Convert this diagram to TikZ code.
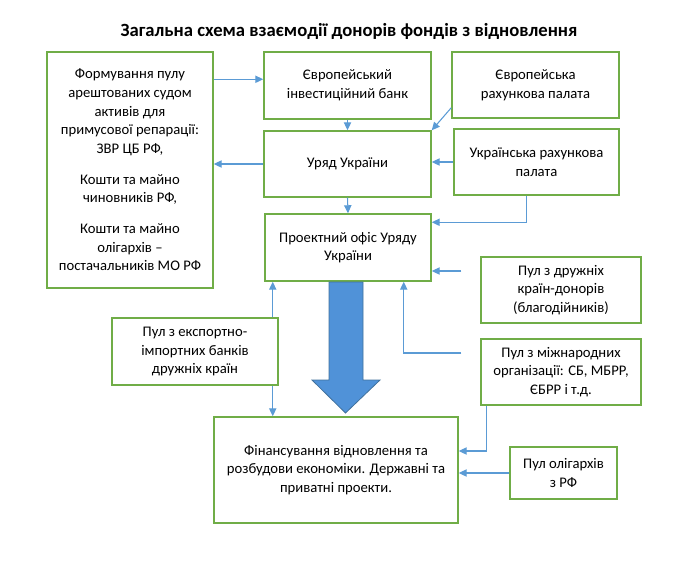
\documentclass[tikz,border=0pt]{standalone}
\usepackage{fontspec}
\setmainfont{Carlito}
\usetikzlibrary{arrows.meta,calc}

\definecolor{boxgreen}{RGB}{112,173,71}
\definecolor{lineblue}{RGB}{91,155,213}
\definecolor{fillblue}{RGB}{80,146,216}
\definecolor{edgeblue}{RGB}{65,113,156}

\tikzset{
    box/.style={draw=boxgreen, line width=1.1pt, align=center, inner sep=2pt,
        font=\fontsize{11}{14}\selectfont},
    wh/.style 2 args={minimum width=#1*0.75pt, minimum height=#2*0.75pt},
    link/.style={draw=lineblue, line width=0.8pt, -{Triangle[length=6pt,width=5.5pt,fill=lineblue]}},
}

\begin{document}
\begin{tikzpicture}[x=0.75pt, y=-0.75pt]
    \useasboundingbox (0,0) rectangle (681,564);

    % -- Заголовок --
    \node[font=\bfseries\fontsize{14}{16}\selectfont] (title) at (349,31)
        {Загальна схема взаємодії донорів фондів з відновлення};

    % -- Блоки --
    \node[box, wh={166}{236}] (pool) at (130,170) {Формування пулу\\ арештованих судом\\ активів для\\ примусової репарації:\\ ЗВР ЦБ РФ,\\[9pt] Кошти та майно\\ чиновників РФ,\\[9pt] Кошти та майно\\ олігархів –\\ постачальників МО РФ};
    \node[box, wh={167}{67}] (eib) at (347.5,85.5) {Європейський\\ інвестиційний банк};
    \node[box, wh={167}{66}] (uryad) at (347.5,164) {Уряд України};
    \node[box, wh={166}{67}] (office) at (348,247.5) {Проектний офіс Уряду\\ України};
    \node[box, wh={167}{66}] (erp) at (535.5,85) {Європейська\\ рахункова палата};
    \node[box, wh={165}{66}] (urp) at (536.5,162) {Українська рахункова\\ палата};
    \node[box, wh={160}{66}] (friends) at (561,290) {Пул з дружніх\\ країн-донорів\\ (благодійників)};
    \node[box, wh={160}{66}] (intl) at (561,372) {Пул з міжнародних\\ організації: СБ, МБРР,\\ ЄБРР і т.д.};
    \node[box, wh={166}{67}] (export) at (195,351.5) {Пул з експортно-\\ імпортних банків\\ дружніх країн};
    \node[box, wh={244}{106}] (finance) at (336,470) {Фінансування відновлення та\\ розбудови економіки. Державні та\\ приватні проекти.};
    \node[box, wh={107}{52}] (oligarch) at (563.5,473) {Пул олігархів\\ з РФ};

    % -- Точки прив'язки --
    \coordinate (poolout) at ($(pool.north east)+(0,28)$);
    \coordinate (erpout) at ($(erp.south west)+(0,-11)$);
    \coordinate (officein) at ($(office.north east)+(0,9)$);
    \coordinate (friendsout) at ($(friends.west)+(-19,-19)$);
    \coordinate (intlout) at ($(intl.west)+(-19,-19)$);
    \coordinate (exptop) at ($(export.north east)+(-6,0)$);
    \coordinate (expbot) at ($(export.south east)+(-6,0)$);

    % -- Зв'язки --
    \draw[link] (poolout) -- (poolout -| eib.west);
    \draw[link] (uryad.west) -- (uryad.west -| pool.east);
    \draw[link] (eib.south) -- (uryad.north);
    \draw[link] (erpout) -- (uryad.north east);
    \draw[link] (urp.west) -- (urp.west -| uryad.east);
    \draw[link] (uryad.south) -- (office.north);
    \draw[link] ($(urp.south)+(-10,0)$) |- (officein);
    \draw[link] (friendsout) -- (friendsout -| office.east);
    \draw[link] (intlout) -| ($(office.south east)+(-28,0)$);
    \draw[link] ($(intl.south west)+(6,0)$) |- ($(finance.east)+(0,-19)$);
    \draw[link] (oligarch.west) -- (oligarch.west -| finance.east);
    \draw[link] (exptop) -- (exptop |- office.south);
    \draw[link] (expbot) -- (expbot |- finance.north);

    % -- Велика стрілка --
    \draw[fill=fillblue, draw=edgeblue, line width=0.6pt]
        (329,282) -- (363,282) -- (363,380) -- (380,380) -- (345.5,413)
        -- (312,380) -- (329,380) -- cycle;
\end{tikzpicture}
\end{document}
